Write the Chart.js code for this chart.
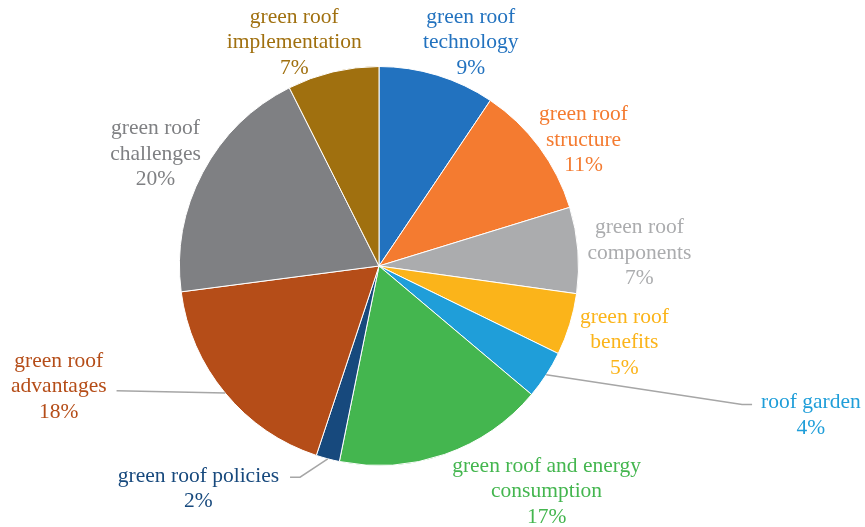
<!DOCTYPE html>
<html>
<head>
<meta charset="utf-8">
<script src="https://cdn.jsdelivr.net/npm/chart.js@4"></script>
<style>
  body { margin: 0; background: #fff; }
  #wrap { width: 865px; height: 527px; }
</style>
</head>
<body>
<div id="wrap"><canvas id="pie" width="865" height="527"></canvas></div>
<script>
// slices, clockwise from 12 o'clock
const categories = [
    "green roof technology",
    "green roof structure",
    "green roof components",
    "green roof benefits",
    "roof garden",
    "green roof and energy consumption",
    "green roof policies",
    "green roof advantages",
    "green roof challenges",
    "green roof implementation"
];
// shares (labels show them rounded)
const shares = [9.4, 10.8, 6.95, 5.0, 3.9, 17.0, 1.9, 17.8, 19.6, 7.4];

// how each label is broken into lines
const labelLines = [
    ["green roof", "technology"],
    ["green roof", "structure"],
    ["green roof", "components"],
    ["green roof", "benefits"],
    ["roof garden"],
    ["green roof and energy", "consumption"],
    ["green roof policies"],
    ["green roof", "advantages"],
    ["green roof", "challenges"],
    ["green roof", "implementation"]
];

const sliceColors = [
    "#2272BF", "#F47B30", "#ABACAE", "#FBB41A", "#1F9ED9",
    "#44B64F", "#17497D", "#B54D18", "#7F8083", "#A0700F"
];

// label block centre, relative to pie centre, in pie radii
const labelSpots = [
    [0.46, -1.12], [1.025, -0.63], [1.305, -0.065], [1.23, 0.385],
    [2.165, 0.7475], [0.84, 1.13], [-0.905, 1.1175], [-1.605, 0.605],
    [-1.12, -0.56], [-0.425, -1.12]
];

// leader lines: slice, line of the label they point at, side of the text
const leaders = [
    { slice: 4, line: 0, side: "left", gap: 9, elbow: 10, dy: 2 },
    { slice: 6, line: 0, side: "right", gap: 11, elbow: 10, dy: 1 },
    { slice: 7, line: 1, side: "right", gap: 10, elbow: 0, dy: 4 }
];

const lineHeight = 25.5;
const labelFont = "21.5px 'Liberation Serif', 'DejaVu Serif', serif";

const labelPlugin = {
    id: "pieLabels",
    afterDraw(chart) {
        const ctx = chart.ctx;
        const arcs = chart.getDatasetMeta(0).data;
        const total = shares.reduce((a, b) => a + b, 0);
        ctx.save();
        ctx.font = labelFont;
        ctx.textAlign = "center";
        ctx.textBaseline = "middle";

        const boxes = [];
        arcs.forEach((arc, i) => {
            const r = arc.outerRadius;
            const cx = arc.x + labelSpots[i][0] * r;
            const cy = arc.y + labelSpots[i][1] * r;
            const pct = Math.round(shares[i] / total * 100) + "%";
            const lines = labelLines[i].concat([pct]);
            const rows = lines.map((t, k) => ({
                text: t,
                y: cy + (k - (lines.length - 1) / 2) * lineHeight,
                w: ctx.measureText(t).width
            }));
            ctx.fillStyle = sliceColors[i];
            rows.forEach(row => ctx.fillText(row.text, cx, row.y));
            boxes.push({ cx, rows });
        });

        ctx.strokeStyle = "#A6A6A6";
        ctx.lineWidth = 1.5;
        leaders.forEach(l => {
            const arc = arcs[l.slice];
            const mid = (arc.startAngle + arc.endAngle) / 2;
            const px = arc.x + Math.cos(mid) * arc.outerRadius;
            const py = arc.y + Math.sin(mid) * arc.outerRadius;
            const box = boxes[l.slice];
            const row = box.rows[l.line];
            const y = row.y + l.dy;
            let ex, bx;
            if (l.side === "left") {
                ex = box.cx - row.w / 2 - l.gap;
                bx = ex - l.elbow;
            } else {
                ex = box.cx + row.w / 2 + l.gap;
                bx = ex + l.elbow;
            }
            ctx.beginPath();
            ctx.moveTo(px, py);
            ctx.lineTo(bx, y);
            ctx.lineTo(ex, y);
            ctx.stroke();
        });
        ctx.restore();
    }
};

new Chart(document.getElementById("pie"), {
    type: "pie",
    data: {
        labels: categories,
        datasets: [{
            data: shares,
            backgroundColor: sliceColors,
            borderColor: "#ffffff",
            borderWidth: 1
        }]
    },
    options: {
        responsive: false,
        animation: false,
        layout: { padding: { top: 66, bottom: 61, left: 179, right: 286 } },
        plugins: {
            legend: { display: false },
            tooltip: { enabled: false }
        }
    },
    plugins: [labelPlugin]
});
</script>
</body>
</html>
